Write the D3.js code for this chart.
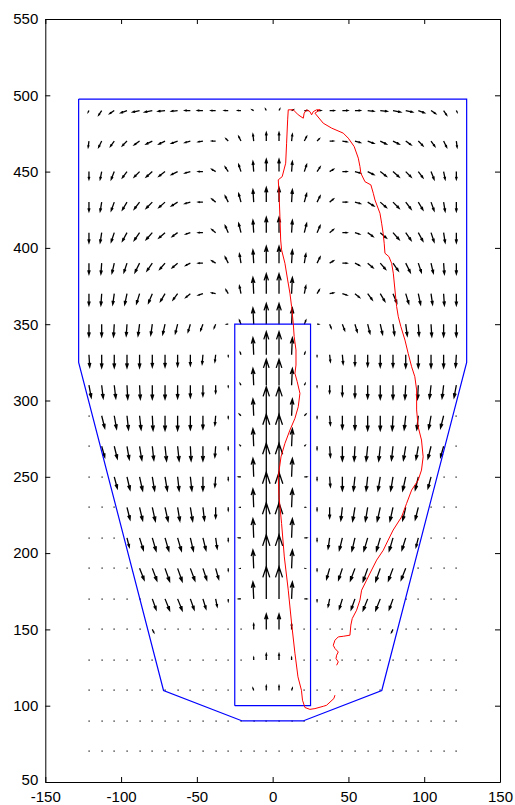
<!DOCTYPE html>
<html>
<head>
<meta charset="utf-8">
<script src="https://cdn.jsdelivr.net/npm/d3@7"></script>
<style>
  body { margin: 0; background: #fff; }
  svg text { font-family: "Liberation Sans", Arial, sans-serif; font-size: 15px; fill: #000; }
</style>
</head>
<body>
<svg id="chart"></svg>
<script>
// quiver grid (columns / rows)
const colX = [-121.2, -112.8, -104.5, -96.1, -87.8, -79.4, -71.0, -62.7, -54.3, -46.0,
              -37.6, -29.3, -20.9, -12.5, -4.2, 4.2, 12.5, 20.9, 29.3, 37.6,
              46.0, 54.3, 62.7, 71.0, 79.4, 87.8, 96.1, 104.5, 112.8, 121.2];
const rowY = [490, 470, 450, 430, 410, 390, 370, 350, 330, 310, 290,
              270, 250, 230, 210, 190, 170, 150, 130, 110, 90, 70];

// horizontal components, one row per rowY entry
const U = [
  [-0.5,-2,-3,-4,-4.5,-5,-4.5,-4,-3.5,-3.5,-3,-2.5,-2,-1,-0.5, 0.5,1,2,2.5,3,3.5,3.5,4,4.5,5,4.5,4,3,2,0.5],
  [-0.5,-2,-2.5,-3,-3.5,-4,-4,-4,-3.5,-3,-2.5,-1.5,-1.5,-0.5,0, 0,0.5,1.5,1.5,2.5,3,3.5,4,4,4,3.5,3,2.5,2,0.5],
  [0,-1,-2,-3,-3.5,-4,-4,-4,-3.5,-3,-2.5,-2,-1.5,-0.5,0, 0,0.5,1.5,2,2.5,3,3.5,4,4,4,3.5,3,2,1,0],
  [0,-1,-2,-3,-3.5,-4,-4,-4,-3.5,-3,-2.5,-2,-1.5,-0.5,0, 0,0.5,1.5,2,2.5,3,3.5,4,4,4,3.5,3,2,1,0],
  [0,-1,-2,-3,-3.5,-4,-4,-3.5,-3,-3,-2.5,-2,-1.5,-0.5,0, 0,0.5,1.5,2,2.5,3,3,3.5,4,4,3.5,3,2,1,0],
  [0,-0.5,-1.5,-2,-3,-3.5,-3.5,-3.5,-3,-3,-2.5,-2,-1,-0.5,0, 0,0.5,1,2,2.5,3,3,3.5,3.5,3.5,3,2,1.5,0.5,0],
  [0,-0.5,-1,-1.5,-2,-2.5,-3,-3,-3,-3,-2.5,-1.5,-1,-0.5,0, 0,0.5,1,1.5,2.5,3,3,3,3,2.5,2,1.5,1,0.5,0],
  [0,0,-0.5,-0.5,-1,-1,-1.5,-1.5,-1.5,-1.5,-1,-1,-1,-0.5,0, 0,0.5,1,1,1,1.5,1.5,1.5,1.5,1,1,0.5,0.5,0,0],
  [0.5,0,0,0,0,0,0,0,0,-0.5,-0.5,0,-0.5,-0.5,0, 0,0.5,0.5,0,0.5,0.5,0,0,0,0,0,0,0,0,-0.5],
  [1.5,1,1,0.5,0.5,0,0,0,0,0,0,0,-0.5,-0.5,0, 0,0.5,0.5,0,0,0,0,0,0,0,-0.5,-0.5,-1,-1,-1.5],
  [0,2,1.5,1,1,0.5,0,0,0,0,-0.5,0,-1,-0.5,0, 0,0.5,1,0,0.5,0,0,0,0,-0.5,-1,-1,-1.5,-2,0],
  [0,2,2,1.5,1.5,1,1,1,0.5,0,-0.5,0,-0.5,-0.5,0, 0,0.5,0.5,0,0.5,0,-0.5,-1,-1,-1,-1.5,-1.5,-2,-2,0],
  [0,0,2,2,2,1.5,1.5,1,1,0,-0.5,0,-1.5,-0.5,0, 0,0.5,1.5,0,0.5,0,-1,-1,-1.5,-1.5,-2,-2,-2,0,0],
  [0,0,0,2,2,2,2,1.5,1.5,1,0,0,-0.5,-0.5,0, 0,0.5,0.5,0,0,-1,-1.5,-1.5,-2,-2,-2,-2,0,0,0],
  [0,0,0,1.5,2.5,2.5,2.5,2.5,2,2,1,0,-1.5,-0.5,0, 0,0.5,1.5,0,-1,-2,-2,-2.5,-2.5,-2.5,-2.5,-1.5,0,0,0],
  [0,0,0,0,3,3,3,3,3,2.5,2,0,-0.5,-0.5,0, 0,0.5,0.5,0,-2,-2.5,-3,-3,-3,-3,-3,0,0,0,0],
  [0,0,0,0,0,2.5,3,3,2.5,2,1,0,-1.5,-0.5,0, 0,0.5,1.5,0,-1,-2,-2.5,-3,-3,-2.5,0,0,0,0,0],
  [0,0,0,0,0,1,0,0,0,0,0,0,0,0,0, 0,0,0,0,0,0,0,0,0,-1,0,0,0,0,0],
  [0,0,0,0,0,0,0,0,0,0,0,0,0,0,0, 0,0,0,0,0,0,0,0,0,0,0,0,0,0,0],
  [0,0,0,0,0,0,0,0,0,0,0,0,0,-0.5,0, 0,0.5,0,0,0,0,0,0,0,0,0,0,0,0,0],
  [0,0,0,0,0,0,0,0,0,0,0,0,0,0,0, 0,0,0,0,0,0,0,0,0,0,0,0,0,0,0],
  [0,0,0,0,0,0,0,0,0,0,0,0,0,0,0, 0,0,0,0,0,0,0,0,0,0,0,0,0,0,0]
];

// vertical components
const V = [
  [-1,-3,-2,-1.5,-1,-1,-0.5,-0.5,0,0,0,0,0,0.5,1, 1,0.5,0,0,0,0,0,-0.5,-0.5,-1,-1,-1.5,-2,-3,-1],
  [-4,-4,-3.5,-3,-2.5,-2,-2,-1.5,-1,-0.5,0,1.5,3,4.5,5.5, 5.5,4.5,3,1.5,0,-0.5,-1,-1.5,-2,-2,-2.5,-3,-3.5,-4,-4],
  [-5,-5,-5,-4,-3.5,-3.5,-3,-2,-1,0,1.5,3,4.5,6.5,8, 8,6.5,4.5,3,1.5,0,-1,-2,-3,-3.5,-3.5,-4,-5,-5,-5],
  [-6,-6,-5.5,-5,-4.5,-4,-3.5,-2.5,-1,0,2,4,5.5,8,9.5, 9.5,8,5.5,4,2,0,-1,-2.5,-3.5,-4,-4.5,-5,-5.5,-6,-6],
  [-6.5,-6.5,-6,-5.5,-5,-4.5,-3.5,-2.5,-1,0,2,4.5,6,8,10, 10,8,6,4.5,2,0,-1,-2.5,-3.5,-4.5,-5,-5.5,-6,-6.5,-6.5],
  [-7,-7,-6.5,-6,-6,-5,-4,-3,-1.5,0,1.5,4,6,8.5,11, 11,8.5,6,4,1.5,0,-1.5,-3,-4,-5,-6,-6,-6.5,-7,-7],
  [-7.5,-7.5,-7,-7,-6.5,-6,-5,-4,-2.5,-1,0.5,2.5,5,10.5,13, 13,10.5,5,2.5,0.5,-1,-2.5,-4,-5,-6,-6.5,-7,-7,-7.5,-7.5],
  [-8,-8,-8,-7.5,-7.5,-7,-6.5,-6,-5,-4,-2.5,0,2.5,10.5,13.5, 13.5,10.5,2.5,0,-2.5,-4,-5,-6,-6.5,-7,-7.5,-7.5,-8,-8,-8],
  [-8,-8.5,-8.5,-8.5,-8.5,-8,-8,-7.5,-7,-6,-4.5,-1,1.5,11,15, 15,11,1.5,-1,-4.5,-6,-7,-7.5,-8,-8,-8.5,-8.5,-8.5,-8.5,-8],
  [-8,-8.5,-8.5,-9,-9,-9,-9,-8.5,-8,-7,-5,-1,1,11,17, 17,11,1,-1,-5,-7,-8,-8.5,-9,-9,-9,-9,-8.5,-8.5,-8],
  [0,-8,-8.5,-9,-9,-9.5,-9.5,-9.5,-9,-8.5,-6,-1.5,1,11,19, 19,11,1,-1.5,-6,-8.5,-9,-9.5,-9.5,-9.5,-9,-9,-8.5,-8,0],
  [0,-7,-8,-8.5,-9,-9,-9.5,-9.5,-9.5,-9.5,-7,-2,0.5,11.5,21, 21,11.5,0.5,-2,-7,-9.5,-9.5,-9.5,-9.5,-9,-9,-8.5,-8,-7,0],
  [0,0,-7.5,-8.5,-9,-9,-9,-9,-9,-9,-6.5,-2,0,12,22, 22,12,0,-2,-6.5,-9,-9,-9,-9,-9,-9,-8.5,-7.5,0,0],
  [0,0,0,-8,-8.5,-9,-9,-9,-9,-8.5,-7,-2,0,12,23, 23,12,0,-2,-7,-8.5,-9,-9,-9,-9,-8.5,-8,0,0,0],
  [0,0,0,-6,-8,-8.5,-8.5,-8.5,-8.5,-8,-7,-2,0,12.5,23, 23,12.5,0,-2,-7,-8,-8.5,-8.5,-8.5,-8.5,-8,-6,0,0,0],
  [0,0,0,0,-7.5,-8,-8.5,-8.5,-8,-7.5,-7,-1.5,0,12,22, 22,12,0,-1.5,-7,-7.5,-8,-8.5,-8.5,-8,-7.5,0,0,0,0],
  [0,0,0,0,0,-7,-7.5,-7.5,-7,-6.5,-5,-1.5,0,11,21, 21,11,0,-1.5,-5,-6.5,-7,-7.5,-7.5,-7,0,0,0,0,0],
  [0,0,0,0,0,-2,0,0,0,0,0,0,0,3.5,10, 10,3.5,0,0,0,0,0,0,0,-2,0,0,0,0,0],
  [0,0,0,0,0,0,0,0,0,0,0,0,0,1.5,4, 4,1.5,0,0,0,0,0,0,0,0,0,0,0,0,0],
  [0,0,0,0,0,0,0,0,0,0,0,0,0,1.5,3, 3,1.5,0,0,0,0,0,0,0,0,0,0,0,0,0],
  [0,0,0,0,0,0,0,0,0,0,0,0,0,0,0, 0,0,0,0,0,0,0,0,0,0,0,0,0,0,0],
  [0,0,0,0,0,0,0,0,0,0,0,0,0,0,0, 0,0,0,0,0,0,0,0,0,0,0,0,0,0,0]
];

// blue outlines
const outerX = [-128, 128, 128, 72, 20, -20, -72, -128, -128];
const outerY = [497.5, 497.5, 325, 110, 90, 90, 110, 325, 497.5];
const innerX = [-25, 25, 25, -25, -25];
const innerY = [100, 100, 350, 350, 100];

// red track
const trackX = [41.1, 40.4, 35.6, 33.4, 27.9, 24.6, 21.3, 19.7, 19.0, 16.7, 14.7, 12.5, 10.3, 7.7, 5.9, 4.2,
  3.7, 5.5, 8.1, 11.4, 14.7, 16.9, 18.0, 16.2, 14.7, 15.4, 15.4, 14.2, 13.6, 12.5, 11.4, 9.9, 8.1, 5.9,
  5.3, 4.8, 4.2, 3.7, 6.3, 8.6, 9.2, 9.9, 10.3, 13.6, 16.9, 20.2, 20.8, 22.4, 24.6, 25.7, 26.8, 29.0,
  31.2, 27.9, 33.4, 38.9, 46.6, 49.9, 53.8, 56.5, 57.6, 58.2, 60.9, 64.8, 66.4, 67.5, 70.8, 71.9, 72.9,
  73.6, 74.1, 76.7, 78.5, 79.6, 80.7, 81.8, 82.9, 84.6, 87.3, 89.4, 91.7, 93.8, 95.0, 95.0, 96.0, 98.2,
  99.3, 98.2, 96.0, 91.7, 88.4, 85.1, 79.5, 76.2, 73.0, 68.6, 65.3, 62.0, 58.7, 57.6, 55.4, 52.5, 51.6,
  51.0, 46.6, 43.3, 41.1, 40.0, 41.1, 43.3, 42.2, 41.8, 43.3, 42.2];
const trackY = [106.9, 104.7, 100.3, 99.6, 98.1, 97.6, 98.8, 103.6, 110.1, 118.9, 134.4, 153.9, 175.7, 197.5,
  219.4, 236.9, 250.0, 263.1, 271.9, 280.6, 288.3, 295.9, 304.7, 312.3, 317.8, 323.2, 333.1, 341.8, 350.6,
  361.5, 370.3, 379.0, 389.9, 398.7, 405.2, 420.5, 435.8, 444.6, 446.7, 455.5, 468.6, 483.9, 490.5, 490.5,
  487.2, 485.0, 488.3, 490.5, 489.3, 487.2, 489.3, 490.5, 490.5, 488.3, 481.7, 478.5, 475.2, 471.9, 466.4,
  458.8, 453.3, 448.9, 443.4, 441.3, 435.8, 431.4, 422.7, 416.2, 409.6, 403.0, 396.5, 394.3, 389.9, 383.4,
  372.4, 361.5, 354.9, 348.4, 339.6, 330.9, 322.1, 315.6, 306.9, 293.8, 282.8, 274.1, 263.1, 254.4, 247.8,
  241.3, 232.6, 223.8, 215.1, 208.5, 201.9, 195.4, 188.9, 182.3, 175.7, 169.2, 162.6, 157.1, 152.8, 146.2,
  145.5, 145.1, 142.9, 139.6, 137.5, 135.2, 133.1, 130.9, 128.7, 126.5];

const xTicks = [-150, -100, -50, 0, 50, 100, 150];
const yTicks = [50, 100, 150, 200, 250, 300, 350, 400, 450, 500, 550];

const margin = { top: 19, right: 15, bottom: 23, left: 45.3 };
const width = 515;
const height = 805;
const iw = width - margin.left - margin.right;
const ih = height - margin.top - margin.bottom;

const svg = d3.select("#chart")
    .attr("width", width)
    .attr("height", height);

const x = d3.scaleLinear().domain([-150, 150]).range([margin.left, margin.left + iw]);
const y = d3.scaleLinear().domain([50, 550]).range([margin.top + ih, margin.top]);

// quiver arrows
const arrows = svg.append("g").attr("fill", "none").attr("stroke", "#000").attr("stroke-width", 1.3);
const dots = svg.append("g").attr("fill", "#000");
const alpha = 0.33, beta = 0.33;

rowY.forEach((yy, j) => {
    colX.forEach((xx, i) => {
        const px = x(xx), py = y(yy);
        const ex = x(xx + U[j][i]), ey = y(yy + V[j][i]);
        const du = ex - px, dv = ey - py;
        if (Math.hypot(du, dv) < 0.6) {
            dots.append("rect")
                .attr("x", Math.round(px) - 0.5)
                .attr("y", Math.round(py) - 0.5)
                .attr("width", 1.2)
                .attr("height", 1.2);
            return;
        }
        const h1x = ex - alpha * (du + beta * dv), h1y = ey - alpha * (dv - beta * du);
        const h2x = ex - alpha * (du - beta * dv), h2y = ey - alpha * (dv + beta * du);
        arrows.append("path")
            .attr("d", `M${px},${py}L${ex},${ey}M${h1x},${h1y}L${ex},${ey}L${h2x},${h2y}`);
    });
});

// blue outlines
const line = d3.line().x(d => x(d[0])).y(d => y(d[1]));
svg.append("path")
    .datum(outerX.map((d, i) => [d, outerY[i]]))
    .attr("d", line)
    .attr("fill", "none")
    .attr("stroke", "#0000ff")
    .attr("stroke-width", 1.2);
svg.append("path")
    .datum(innerX.map((d, i) => [d, innerY[i]]))
    .attr("d", line)
    .attr("fill", "none")
    .attr("stroke", "#0000ff")
    .attr("stroke-width", 1.2);

// red track
svg.append("path")
    .datum(trackX.map((d, i) => [d, trackY[i]]))
    .attr("d", line)
    .attr("fill", "none")
    .attr("stroke", "#ff0000")
    .attr("stroke-width", 1);

// axes, ticks pointing inward
svg.append("g")
    .attr("transform", `translate(0,${margin.top + ih})`)
    .call(d3.axisBottom(x).tickValues(xTicks).tickFormat(d3.format("d"))
        .tickSizeInner(-5).tickSizeOuter(0).tickPadding(9.2));
svg.append("g")
    .attr("transform", `translate(0,${margin.top})`)
    .call(d3.axisTop(x).tickValues(xTicks).tickFormat("")
        .tickSizeInner(-5).tickSizeOuter(0));
const yAxis = svg.append("g")
    .attr("transform", `translate(${margin.left},0)`)
    .call(d3.axisLeft(y).tickValues(yTicks).tickFormat(d3.format("d"))
        .tickSizeInner(-5).tickSizeOuter(0).tickPadding(7));
svg.append("g")
    .attr("transform", `translate(${margin.left + iw},0)`)
    .call(d3.axisRight(y).tickValues(yTicks).tickFormat("")
        .tickSizeInner(-5).tickSizeOuter(0));

svg.selectAll(".domain").attr("stroke", "#000");
svg.selectAll(".tick line").attr("stroke", "#000");
svg.selectAll(".tick text")
    .attr("font-family", "Liberation Sans, Arial, sans-serif")
    .attr("font-size", 15)
    .text(function() { return this.textContent.replace("\u2212", "-"); });
// lift the lowest y label a little so it clears the x labels
yAxis.selectAll(".tick text").filter(d => d === 50).attr("y", -2);
</script>
</body>
</html>
